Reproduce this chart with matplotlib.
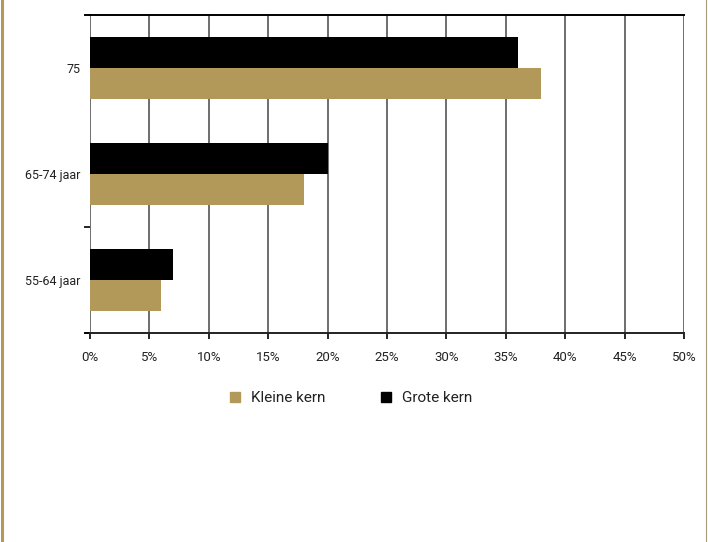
import matplotlib.pyplot as plt
from matplotlib.lines import Line2D
import numpy as np

plt.rcParams['font.family'] = ['Roboto', 'DejaVu Sans']

categories = ['55-64 jaar', '65-74 jaar', '75']
kleine_kern = [6, 18, 38]
grote_kern = [7, 20, 36]
x_ticks = [0, 5, 10, 15, 20, 25, 30, 35, 40, 45, 50]

tan = '#B2995A'
grid_col = '#6e6e6e'
text_col = '#222222'

fig = plt.figure(figsize=(7.08, 5.42), dpi=100)
ax = fig.add_axes([90 / 708, 1 - 333 / 542, 594 / 708, 318 / 542])

y = np.arange(len(categories))
h = 0.29
ax.barh(y + h / 2, grote_kern, height=h, color='black', zorder=3, label='Grote kern')
ax.barh(y - h / 2, kleine_kern, height=h, color=tan, zorder=3, label='Kleine kern')

ax.set_xlim(0, 50)
ax.set_ylim(-0.5, 2.5)
ax.set_xticks(x_ticks)
ax.set_xticklabels([f'{t}%' for t in x_ticks], fontsize=9.5, color=text_col)
ax.set_yticks(y)
ax.set_yticklabels(categories, fontsize=9, color=text_col)
ax.set_yticks([0.5], minor=True)
ax.tick_params(axis='y', which='major', length=0, pad=7)
ax.tick_params(axis='y', which='minor', length=4, width=1.2, color='black')
ax.tick_params(axis='x', length=4, width=1.2, color='black', pad=9)

ax.grid(axis='x', color=grid_col, linewidth=1.4, zorder=1)
for s in ['left', 'right']:
    ax.spines[s].set_visible(False)
ax.spines['bottom'].set_color('#222222')
ax.spines['bottom'].set_linewidth(1.4)
ax.spines['top'].set_color('black')
ax.spines['top'].set_linewidth(1.4)
ax.spines['top'].set_zorder(4)
ax.spines['bottom'].set_zorder(4)

# small overhang of the top and bottom lines to the left
for yy in (0, 1):
    ax.add_line(Line2D([-0.008, 0], [yy, yy], transform=ax.transAxes,
                       color='black', lw=1.4, clip_on=False))

# legend
handles = [Line2D([], [], marker='s', linestyle='none', color=tan, markersize=7),
           Line2D([], [], marker='s', linestyle='none', color='black', markersize=7)]
fig.legend(handles, ['Kleine kern', 'Grote kern'], loc='center',
           bbox_to_anchor=(346 / 708, 1 - 398 / 542), ncol=2, frameon=False,
           fontsize=11, handletextpad=0.0, columnspacing=3.0, labelcolor=text_col)

# page border lines
fig.add_artist(Line2D([2 / 708, 2 / 708], [0, 1], transform=fig.transFigure,
                      color=tan, lw=2.2))
fig.add_artist(Line2D([705.5 / 708, 705.5 / 708], [0, 1], transform=fig.transFigure,
                      color='#a89a78', lw=0.8))

fig.savefig('out.png', dpi=100)
